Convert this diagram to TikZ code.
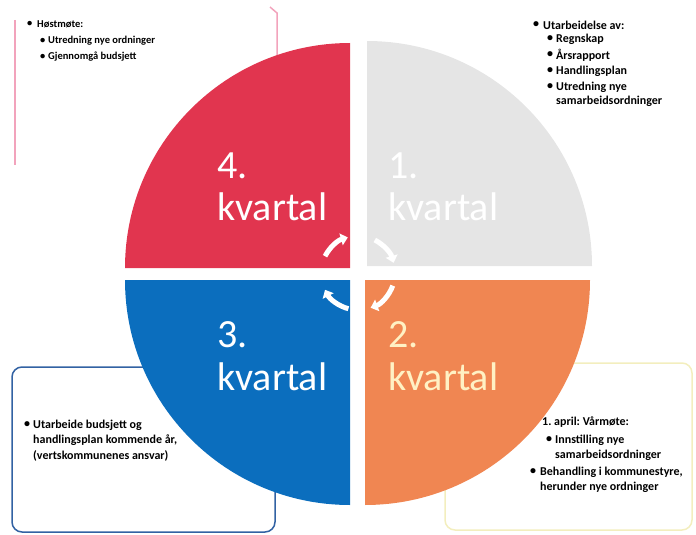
\documentclass[tikz,border=0pt]{standalone}
\usepackage{fontspec}
\setmainfont{Carlito}
\frenchspacing
\usetikzlibrary{arrows.meta}
\definecolor{qred}{HTML}{E1354F}
\definecolor{qgray}{HTML}{E5E5E5}
\definecolor{qorange}{HTML}{F08652}
\definecolor{qblue}{HTML}{0B6EBE}
\definecolor{qpale}{HTML}{FFF1C4}
\definecolor{boxpink}{HTML}{F2A3BC}
\definecolor{boxblue}{HTML}{3262A3}
\definecolor{boxyellow}{HTML}{F3EEBE}
\tikzset{
  bul/.style = {anchor=west, inner sep=0pt,
                font=\bfseries\fontsize{#1}{14}\selectfont},
  bul/.default = 12,
  qlabel/.style = {anchor=base west, inner sep=0pt,
                   font=\fontsize{40}{44}\selectfont, text=#1},
  qlabel/.default = white,
  turn/.style = {draw=white, line width=5pt,
                 -{Triangle[length=7pt,width=12pt]}}
}

\begin{document}
\begin{tikzpicture}[x=1pt, y=-1pt]
	\def \r{225}
	\def \ra{37}
	\useasboundingbox (0,0) rectangle (696,535);
	
	% Boxes behind the circle
	\draw[boxpink, line width=1.5] (15,20) -- (15,165);
	\draw[boxpink, line width=1.5] (270,7) -- (277,13) -- (277,60);
	\draw[boxblue, line width=1.5, rounded corners=10] (12,367) rectangle (275,532);
	\draw[boxyellow, line width=1.5, rounded corners=10] (445,363) rectangle (692,530);
	
	% Quadrants
	\fill[qred]    (350,268) -- ++(-\r,0) arc[start angle=180, end angle=270, radius=\r] -- cycle; % 4
	\fill[qgray]   (367,266) -- ++(0,-\r) arc[start angle=270, end angle=360, radius=\r] -- cycle; % 1
	\fill[qorange] (365,280) -- ++(\r,0)  arc[start angle=0,   end angle=90,  radius=\r] -- cycle; % 2
	\fill[qblue]   (350,280) -- ++(0,\r)  arc[start angle=90,  end angle=180, radius=\r] -- cycle; % 3
	
	% Circular arrows
	\coordinate (mid) at (358,273);
	\draw[turn] ([shift={(207:\ra)}]mid) arc[start angle=207, end angle=254, radius=\ra];
	\draw[turn] ([shift={(297:\ra)}]mid) arc[start angle=297, end angle=344, radius=\ra];
	\draw[turn] ([shift={(20:\ra)}]mid)  arc[start angle=20,  end angle=70,  radius=\ra];
	\draw[turn] ([shift={(105:\ra)}]mid) arc[start angle=105, end angle=153, radius=\ra];
	
	% Quarter names
	\node[qlabel] (n4)  at (217,178) {4.};
	\node[qlabel] (k4)  at (217,220) {kvartal};
	\node[qlabel] (n1)  at (388,178) {1.};
	\node[qlabel] (k1)  at (388,220) {kvartal};
	\node[qlabel=qpale] (n2) at (388,347) {2.};
	\node[qlabel=qpale] (k2) at (388,390) {kvartal};
	\node[qlabel] (n3)  at (217,347) {3.};
	\node[qlabel] (k3)  at (217,390) {kvartal};
	
	% Autumn (4th quarter)
	\node[bul=10.5] (hb)  at (27,24) {•};
	\node[bul=10.5] (ht)  at (37,24) {Høstmøte:};
	\node[bul=10.5] (hb1) at (40,41) {•};
	\node[bul=10.5] (ht1) at (48,41) {Utredning nye ordninger};
	\node[bul=10.5] (hb2) at (40,57) {•};
	\node[bul=10.5] (ht2) at (48,57) {Gjennomgå budsjett};
	
	% 1st quarter
	\node[bul] (ub)  at (533,25) {•};
	\node[bul] (ut)  at (543,25) {Utarbeidelse av:};
	\node[bul] (ub1) at (547,39) {•};
	\node[bul] (ut1) at (556,39) {Regnskap};
	\node[bul] (ub2) at (547,55) {•};
	\node[bul] (ut2) at (556,55) {Årsrapport};
	\node[bul] (ub3) at (547,71) {•};
	\node[bul] (ut3) at (556,71) {Handlingsplan};
	\node[bul] (ub4) at (547,87) {•};
	\node[bul] (ut4) at (556,87) {Utredning nye};
	\node[bul] (ut5) at (556,101) {samarbeidsordninger};
	
	% 3rd quarter
	\node[bul] (bb)  at (24,425) {•};
	\node[bul] (bt1) at (33,425) {Utarbeide budsjett og};
	\node[bul] (bt2) at (33,440) {handlingsplan kommende år,};
	\node[bul] (bt3) at (33,456) {(vertskommunenes ansvar)};
	
	% Spring (2nd quarter)
	\node[bul] (vt)  at (542,422) {1. april: Vårmøte:};
	\node[bul] (vb1) at (546,440) {•};
	\node[bul] (vt1) at (555,440) {Innstilling nye};
	\node[bul] (vt2) at (555,455) {samarbeidsordninger};
	\node[bul] (vb2) at (530,472) {•};
	\node[bul] (vt3) at (540,472) {Behandling i kommunestyre,};
	\node[bul] (vt4) at (540,487) {herunder nye ordninger};
	
\end{tikzpicture}
\end{document}
